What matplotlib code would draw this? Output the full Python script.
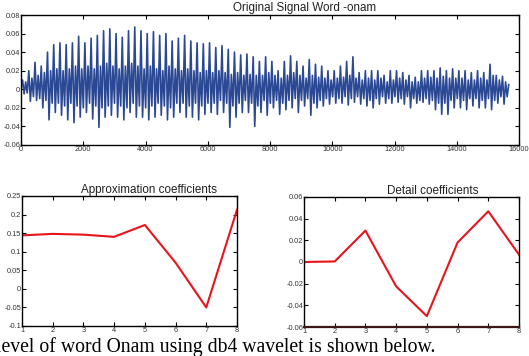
import numpy as np
import matplotlib
matplotlib.use('Agg')
import matplotlib.pyplot as plt

# signal turning points read per pitch period (78 periods over ~15670 samples)
sig_len = 15670
peak_top = [0.010, 0.020, 0.029, 0.025, 0.040, 0.048, 0.050, 0.048, 0.050, 0.057,
            0.050, 0.055, 0.058, 0.063, 0.065, 0.060, 0.056, 0.063, 0.067, 0.063,
            0.060, 0.062, 0.058, 0.060, 0.052, 0.055, 0.058, 0.052, 0.050, 0.049,
            0.050, 0.045, 0.047, 0.043, 0.040, 0.037, 0.038, 0.035, 0.030, 0.035,
            0.030, 0.020, 0.030, 0.036, 0.030, 0.025, 0.032, 0.027, 0.025, 0.020,
            0.020, 0.025, 0.030, 0.035, 0.018, 0.020, 0.020, 0.020, 0.015, 0.020,
            0.020, 0.018, 0.015, 0.013, 0.020, 0.020, 0.020, 0.023, 0.020, 0.022,
            0.020, 0.020, 0.018, 0.020, 0.018, 0.027, 0.015, 0.014]
peak_bottom = [-0.005, -0.013, -0.012, -0.020, -0.033, -0.025, -0.028, -0.033, -0.036, -0.030,
               -0.025, -0.032, -0.041, -0.030, -0.028, -0.030, -0.033, -0.025, -0.030, -0.030,
               -0.033, -0.030, -0.028, -0.033, -0.030, -0.025, -0.030, -0.030, -0.033, -0.027,
               -0.025, -0.027, -0.025, -0.041, -0.030, -0.025, -0.025, -0.040, -0.025, -0.028,
               -0.020, -0.027, -0.022, -0.020, -0.025, -0.018, -0.028, -0.020, -0.018, -0.016,
               -0.015, -0.015, -0.017, -0.014, -0.016, -0.018, -0.020, -0.016, -0.015, -0.015,
               -0.014, -0.016, -0.020, -0.015, -0.014, -0.016, -0.022, -0.027, -0.027, -0.020,
               -0.020, -0.022, -0.018, -0.020, -0.020, -0.022, -0.015, -0.016]
inner_top = [0.008, 0.012, 0.015, 0.018, 0.020, 0.022, 0.020, 0.022, 0.025, 0.022,
             0.025, 0.022, 0.025, 0.028, 0.025, 0.022, 0.025, 0.028, 0.025, 0.022,
             0.025, 0.022, 0.020, 0.025, 0.022, 0.020, 0.022, 0.020, 0.018, 0.020,
             0.018, 0.020, 0.018, 0.016, 0.018, 0.015, 0.016, 0.015, 0.015, 0.018,
             0.015, 0.012, 0.015, 0.018, 0.015, 0.012, 0.015, 0.013, 0.012, 0.010,
             0.012, 0.013, 0.015, 0.012, 0.010, 0.012, 0.010, 0.012, 0.008, 0.010,
             0.012, 0.010, 0.008, 0.008, 0.012, 0.013, 0.012, 0.014, 0.012, 0.012,
             0.012, 0.010, 0.010, 0.012, 0.010, 0.015, 0.010, 0.008]
inner_bottom = [-0.004, -0.008, -0.010, -0.012, -0.015, -0.015, -0.018, -0.015, -0.018, -0.020,
                -0.015, -0.018, -0.020, -0.018, -0.015, -0.018, -0.020, -0.015, -0.018, -0.020,
                -0.018, -0.015, -0.018, -0.020, -0.015, -0.015, -0.018, -0.015, -0.018, -0.015,
                -0.015, -0.012, -0.015, -0.018, -0.015, -0.012, -0.015, -0.018, -0.012, -0.015,
                -0.012, -0.015, -0.012, -0.010, -0.012, -0.010, -0.015, -0.012, -0.010, -0.008,
                -0.010, -0.008, -0.010, -0.008, -0.010, -0.012, -0.010, -0.008, -0.010, -0.008,
                -0.010, -0.008, -0.010, -0.012, -0.010, -0.012, -0.015, -0.015, -0.012, -0.010,
                -0.012, -0.010, -0.010, -0.012, -0.010, -0.012, -0.008, -0.008]

coef_idx = [1, 2, 3, 4, 5, 6, 7, 8]
approx_coef = [0.144, 0.148, 0.146, 0.140, 0.172, 0.0705, -0.050, 0.213]
detail_coef = [0.0, 0.0005, 0.029, -0.0225, -0.050, 0.018, 0.0468, 0.0068]

plt.rcParams['font.family'] = ['Liberation Sans', 'DejaVu Sans']

W, H = 529, 356
fig = plt.figure(figsize=(W / 100, H / 100), dpi=100)


def px_axes(x0, y0, x1, y1):
    return fig.add_axes([x0 / W, 1 - y1 / H, (x1 - x0) / W, (y1 - y0) / H])


def matlab_style(ax):
    for s in ax.spines.values():
        s.set_linewidth(1.0)
        s.set_color('black')
    ax.tick_params(direction='in', length=3, width=0.8, top=True, right=True,
                   labelsize=5.3, labelcolor='#333333', pad=0.5)


# signal assembled from the read turning points
sig = [0.0]
for a, b, c, d in zip(peak_top, peak_bottom, inner_top, inner_bottom):
    sig += [a, b, c, d]
sig.append(0.005)
sig = np.array(sig)
t = np.linspace(0, sig_len, len(sig))

ax0 = px_axes(21, 15, 519, 145)
ax0.plot(t, sig, color='#2a4894', lw=1.2)
ax0.set_xlim(0, 16000)
ax0.set_ylim(-0.06, 0.08)
ax0.set_xticks(np.arange(0, 16001, 2000))
ax0.set_yticks(np.arange(-0.06, 0.081, 0.02))
ax0.set_yticklabels(['-0.06', '-0.04', '-0.02', '0', '0.02', '0.04', '0.06', '0.08'])
matlab_style(ax0)
fig.text(305 / W, 1 - 8.5 / H, 'Original Signal Word -onam', ha='center', va='center',
         fontsize=8.4, color='#222222')

ax1 = px_axes(22, 196, 237, 326)
ax1.plot(coef_idx, approx_coef, color='#e8141c', lw=1.5)
ax1.set_xlim(1, 8)
ax1.set_ylim(-0.1, 0.25)
ax1.set_xticks(coef_idx)
ax1.set_yticks(np.arange(-0.1, 0.251, 0.05))
ax1.set_yticklabels(['-0.1', '-0.05', '0', '0.05', '0.1', '0.15', '0.2', '0.25'])
matlab_style(ax1)
fig.text(149 / W, 1 - 190 / H, 'Approximation coefficients', ha='center', va='center',
         fontsize=8.4, color='#222222')

ax2 = px_axes(304, 197, 519, 327)
ax2.plot(coef_idx, detail_coef, color='#e8141c', lw=1.5)
ax2.set_xlim(1, 8)
ax2.set_ylim(-0.06, 0.06)
ax2.set_xticks(coef_idx)
ax2.set_yticks(np.arange(-0.06, 0.061, 0.02))
ax2.set_yticklabels(['-0.06', '-0.04', '-0.02', '0', '0.02', '0.04', '0.06'])
matlab_style(ax2)
ax2.spines['bottom'].set_linewidth(1.6)
ax2.spines['bottom'].set_color('#3a1818')
fig.text(433 / W, 1 - 191 / H, 'Detail coefficients', ha='center', va='center',
         fontsize=8.4, color='#222222')

fig.text(-4 / W, 1 - 352 / H, 'level of word Onam using db4 wavelet is shown below.',
         ha='left', va='baseline', fontsize=14.2, family='Liberation Serif', color='black')

fig.savefig('out.png', dpi=100)
